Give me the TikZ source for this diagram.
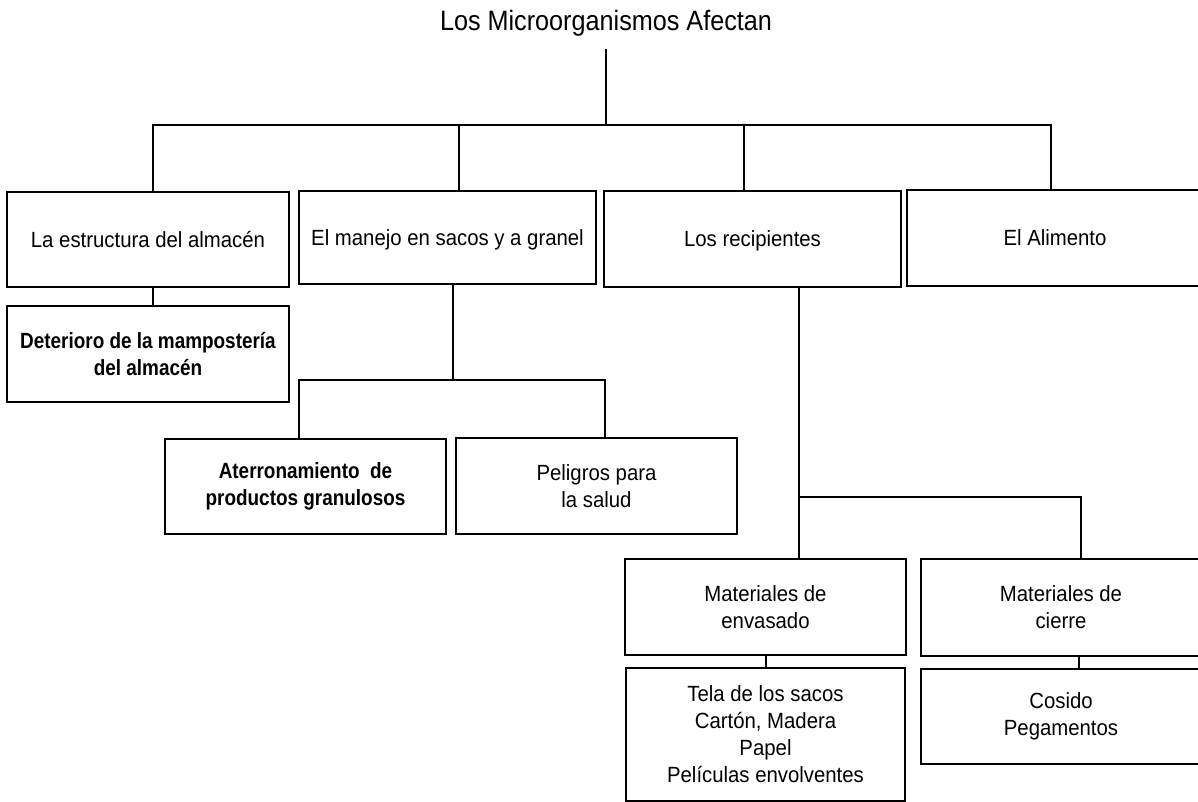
\documentclass[tikz,border=0pt]{standalone}
\usepackage{fontspec}
\setmainfont{Liberation Sans}[FakeStretch=0.925]
\newfontfamily\titlefont{Liberation Sans}[FakeStretch=0.9]
\newfontfamily\boldnarrow{Liberation Sans}[FakeStretch=0.86]
\begin{document}
\begin{tikzpicture}[x=1pt,y=-1pt,
  box/.style={draw, line width=1.9pt, inner sep=0pt, align=center,
    font=\fontsize{22}{27}\selectfont},
  single/.style={text height=16pt, text depth=0pt},
  boldbox/.style={box, font=\boldnarrow\bfseries\fontsize{22}{27}\selectfont},
  link/.style={line width=1.9pt}]
\clip (0,0) rectangle (1198,802);
\fill[white] (0,0) rectangle (1198,802);

% title
\node[font=\titlefont\fontsize{28}{34}\selectfont, inner sep=0pt, anchor=base] (title) at (606,31) {Los Microorganismos Afectan};

% first level
\node[box, single, minimum width=282pt, minimum height=95pt] (b1) at (148,239.5) {La estructura del almacén};
\node[box, single, minimum width=297pt, minimum height=93pt] (b2) at (447.5,237.5) {El manejo en sacos y a granel};
\node[box, single, minimum width=297pt, minimum height=96pt] (b3) at (752.5,239) {Los recipientes};
\node[box, single, minimum width=296pt, minimum height=96pt] (b4) at (1055,238) {El Alimento};

% second level
\node[boldbox, minimum width=282pt, minimum height=96pt] (b5) at (148,354) {Deterioro de la mampostería\\del almacén};
\node[boldbox, minimum width=281pt, minimum height=95pt] (b6) at (305.5,486.5) {Aterronamiento\ \ de\\productos granulosos};
\node[box, minimum width=281pt, minimum height=96pt] (b7) at (596.5,486) {Peligros para\\la salud};
\node[box, minimum width=281pt, minimum height=96pt] (b8) at (765.5,607) {Materiales de\\envasado};
\node[box, minimum width=280pt, minimum height=97pt] (b9) at (1061,607.5) {Materiales de\\cierre};
\node[box, minimum width=279pt, minimum height=133pt] (b10) at (765.5,734.5) {Tela de los sacos\\Cartón, Madera\\Papel\\Películas envolventes};
\node[box, minimum width=280pt, minimum height=95pt] (b11) at (1061,716.5) {Cosido\\Pegamentos};

% bus coordinates
\coordinate (top) at (606,49);
\coordinate (d1) at (153,125);
\coordinate (d0) at (606,125);
\coordinate (d2) at (459,125);
\coordinate (d3) at (744,125);
\coordinate (d4) at (1051,125);
\coordinate (e0) at (453,380);
\coordinate (e1) at (299,380);
\coordinate (e2) at (605,380);
\coordinate (f0) at (799,497);
\coordinate (f1) at (1081,497);

% connectors
\draw[link] (top) -- (d0);
\draw[link] (d1 |- b1.north) -- (d1) -- (d4) -- (d4 |- b4.north);
\draw[link] (d2) -- (d2 |- b2.north);
\draw[link] (d3) -- (d3 |- b3.north);
\draw[link] (d1 |- b1.south) -- (d1 |- b5.north);
\draw[link] (e0 |- b2.south) -- (e0);
\draw[link] (e1 |- b6.north) -- (e1) -- (e2) -- (e2 |- b7.north);
\draw[link] (f0 |- b3.south) -- (f0 |- b8.north);
\draw[link] (f0) -- (f1) -- (f1 |- b9.north);
\draw[link] ([xshift=0.5pt]b8.south) -- ([xshift=0.5pt]b10.north);
\draw[link] ([xshift=18pt]b9.south) -- ([xshift=18pt]b11.north);
\end{tikzpicture}
\end{document}
